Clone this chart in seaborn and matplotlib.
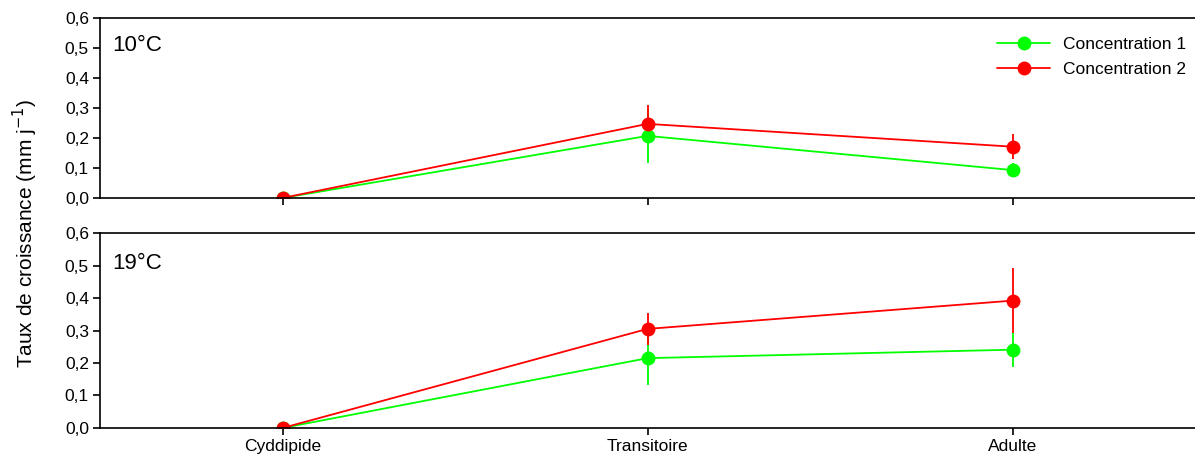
import numpy as np
import pandas as pd
import matplotlib
matplotlib.use("Agg")
import matplotlib.pyplot as plt
import seaborn as sns

stades = ["Cyddipide", "Transitoire", "Adulte"]
series = ["Concentration 1", "Concentration 2"]
couleurs = ["#00ff00", "#ff0000"]

# 10°C
c1_10 = [0.0, 0.207, 0.093]
c1_10_err = [0.0, 0.089, 0.022]
c2_10 = [0.0, 0.247, 0.171]
c2_10_err = [0.0, 0.063, 0.042]

# 19°C
c1_19 = [0.0, 0.215, 0.241]
c1_19_err = [0.0, 0.083, 0.054]
c2_19 = [0.0, 0.305, 0.392]
c2_19_err = [0.0, 0.050, 0.100]

panels = [
    ("10°C", [c1_10, c2_10], [c1_10_err, c2_10_err]),
    ("19°C", [c1_19, c2_19], [c1_19_err, c2_19_err]),
]

sns.set_style("ticks", {"axes.edgecolor": "black", "xtick.color": "black",
                        "ytick.color": "black", "text.color": "black",
                        "axes.labelcolor": "black"})
plt.rcParams["font.family"] = ["Liberation Sans", "DejaVu Sans"]

fig = plt.figure(figsize=(11.95, 4.68), dpi=100)
ax_top = fig.add_axes([0.0837, 0.577, 0.9163, 0.3845])
ax_bot = fig.add_axes([0.0837, 0.0855, 0.9163, 0.4165])

xpos = np.arange(1, len(stades) + 1)
fs = 12.5

for ax, (titre, vals, errs) in zip([ax_top, ax_bot], panels):
    rows = []
    for name, v in zip(series, vals):
        for x, y in zip(xpos, v):
            rows.append({"x": x, "y": y, "serie": name})
    df = pd.DataFrame(rows)
    for name, v, e, c in zip(series, vals, errs, couleurs):
        ax.errorbar(xpos, v, yerr=e, fmt="none", ecolor=c, elinewidth=1.3, capsize=0)
    sns.lineplot(data=df, x="x", y="y", hue="serie", palette=couleurs,
                 marker="o", markersize=10, markeredgewidth=0, linewidth=1.3,
                 ax=ax, legend=(ax is ax_top))
    ax.set_xlim(0.5, 3.5)
    ax.set_ylim(0, 0.6)
    ax.set_yticks(np.arange(0, 0.61, 0.1))
    ax.set_yticklabels([f"{t:.1f}".replace(".", ",") for t in np.arange(0, 0.61, 0.1)],
                       fontsize=fs)
    ax.set_xticks(xpos)
    ax.set_xlabel("")
    ax.set_ylabel("")
    ax.spines["right"].set_visible(False)
    for s in ["left", "bottom", "top"]:
        ax.spines[s].set_linewidth(1.2)
    ax.tick_params(direction="out", length=5, width=1.2, pad=3)
    ax.text(0.011, 0.845, titre, transform=ax.transAxes, fontsize=16, va="center")

ax_top.set_xticklabels([])
ax_bot.set_xticklabels(stades, fontsize=fs)

leg = ax_top.legend(loc="upper right", bbox_to_anchor=(1.005, 0.97), frameon=False,
                    fontsize=fs, handlelength=3.0, borderaxespad=0.4,
                    labelspacing=0.55, handletextpad=0.8)

fig.text(0.021, 0.5, "Taux de croissance (mm j$^{-1}$)", rotation=90,
         va="center", ha="center", fontsize=15)

fig.savefig("out.png", dpi=100)
